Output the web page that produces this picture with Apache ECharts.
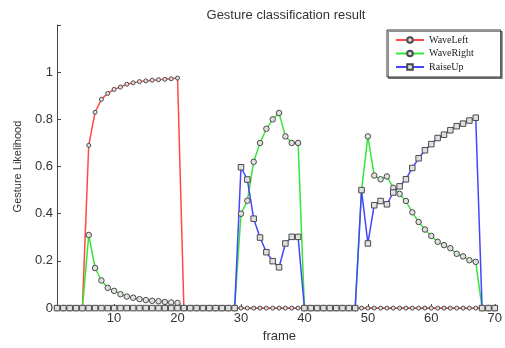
<!DOCTYPE html>
<html>
<head>
<meta charset="utf-8">
<script src="https://cdn.jsdelivr.net/npm/echarts@6/dist/echarts.min.js"></script>
<style>
  html, body {margin: 0; padding: 0; background: #fff;}
  #chart {width: 505px; height: 348px;}
</style>
</head>
<body>
<div id="chart"></div>
<script>
// frame numbers 1..70
const frames = [];
for (let f = 1; f <= 70; f++) frames.push(f);

const waveLeft = [
  0, 0, 0, 0, 0,
  0.69, 0.83, 0.885, 0.91, 0.927, 0.937, 0.949, 0.955, 0.96, 0.963,
  0.966, 0.968, 0.97, 0.972, 0.975,
  0, 0, 0, 0, 0, 0, 0, 0, 0, 0,
  0, 0, 0, 0, 0, 0, 0, 0, 0, 0,
  0, 0, 0, 0, 0, 0, 0, 0, 0, 0,
  0, 0, 0, 0, 0, 0, 0, 0, 0, 0,
  0, 0, 0, 0, 0, 0, 0, 0, 0, 0
];

const waveRight = [
  0, 0, 0, 0, 0,
  0.31, 0.17, 0.117, 0.086, 0.073, 0.059, 0.049, 0.044, 0.038, 0.034,
  0.031, 0.029, 0.026, 0.024, 0.022,
  0, 0, 0, 0, 0, 0, 0, 0, 0,
  0.40, 0.455, 0.62, 0.70, 0.76, 0.80, 0.827, 0.728, 0.70, 0.70,
  0, 0, 0, 0, 0, 0, 0, 0, 0,
  0.50, 0.728, 0.562, 0.546, 0.558, 0.51, 0.484, 0.454, 0.406, 0.365,
  0.333, 0.306, 0.281, 0.267, 0.254, 0.23, 0.219, 0.203, 0.196,
  0, 0, 0
];

const raiseUp = [
  0, 0, 0, 0, 0, 0, 0, 0, 0, 0,
  0, 0, 0, 0, 0, 0, 0, 0, 0, 0,
  0, 0, 0, 0, 0, 0, 0, 0, 0,
  0.597, 0.545, 0.379, 0.299, 0.237, 0.199, 0.173, 0.274, 0.302, 0.302,
  0, 0, 0, 0, 0, 0, 0, 0, 0,
  0.50, 0.274, 0.436, 0.454, 0.44, 0.49, 0.516, 0.546, 0.594, 0.635,
  0.669, 0.695, 0.721, 0.735, 0.754, 0.771, 0.782, 0.795, 0.807,
  0, 0, 0
];

const pairs = arr => frames.map((f, i) => [f, arr[i]]);

const markerStyle = {color: '#e0e0e0', borderColor: '#4a4a4a', borderWidth: 1};
const font = 'Liberation Sans, Arial, sans-serif';

const chart = echarts.init(document.getElementById('chart'));
chart.setOption({
  animation: false,
  backgroundColor: '#fff',
  title: {
    text: 'Gesture classification result',
    left: 281,
    top: 4,
    textAlign: 'center',
    textStyle: {fontFamily: font, fontSize: 13, fontWeight: 'normal', color: '#333'}
  },
  legend: {
    orient: 'vertical',
    left: 387,
    top: 30,
    padding: [5, 27, 5, 8],
    itemWidth: 28,
    itemHeight: 7,
    itemGap: 3.5,
    borderColor: '#333',
    borderWidth: 1,
    backgroundColor: '#fff',
    shadowColor: 'rgba(0,0,0,0.45)',
    shadowOffsetX: 1.5,
    shadowOffsetY: 1.5,
    textStyle: {fontFamily: 'Liberation Serif, Times New Roman, serif', fontSize: 10, color: '#222'},
    data: ['WaveLeft', 'WaveRight', 'RaiseUp']
  },
  grid: {left: 57, right: 5, top: 25, bottom: 33},
  xAxis: {
    type: 'value',
    min: 1,
    max: 70,
    name: 'frame',
    nameLocation: 'middle',
    nameGap: 19,
    nameTextStyle: {fontFamily: font, fontSize: 13, color: '#333', padding: [0, 0, 0, 7]},
    splitLine: {show: false},
    axisLine: {lineStyle: {color: '#444', width: 1}},
    axisTick: {inside: true, length: 4, lineStyle: {color: '#444'}},
    axisLabel: {
      fontFamily: font, fontSize: 13, color: '#333', margin: 4,
      formatter: v => (v % 10 === 0 ? String(v) : '')
    }
  },
  yAxis: {
    type: 'value',
    min: 0,
    max: 1.2,
    interval: 0.2,
    name: 'Gesture Likelihood',
    nameLocation: 'middle',
    nameRotate: 90,
    nameGap: 34,
    nameTextStyle: {fontFamily: font, fontSize: 11, color: '#333'},
    splitLine: {show: false},
    axisLine: {show: true, lineStyle: {color: '#444', width: 1}},
    axisTick: {show: true, inside: true, length: 4, lineStyle: {color: '#444'}},
    axisLabel: {
      fontFamily: font, fontSize: 13, color: '#333', margin: 4,
      formatter: v => (v > 1.1 ? '' : String(+v.toFixed(1)))
    }
  },
  series: [
    {
      name: 'WaveLeft',
      type: 'line',
      data: pairs(waveLeft),
      symbol: 'circle',
      symbolSize: 4,
      lineStyle: {color: '#ff4848', width: 1.5},
      itemStyle: markerStyle
    },
    {
      name: 'WaveRight',
      type: 'line',
      data: pairs(waveRight),
      symbol: 'circle',
      symbolSize: 5.5,
      lineStyle: {color: '#35e635', width: 1.5},
      itemStyle: markerStyle
    },
    {
      name: 'RaiseUp',
      type: 'line',
      data: pairs(raiseUp),
      symbol: 'rect',
      symbolSize: 5.5,
      lineStyle: {color: '#4545ff', width: 1.5},
      itemStyle: markerStyle
    }
  ]
});
</script>
</body>
</html>
